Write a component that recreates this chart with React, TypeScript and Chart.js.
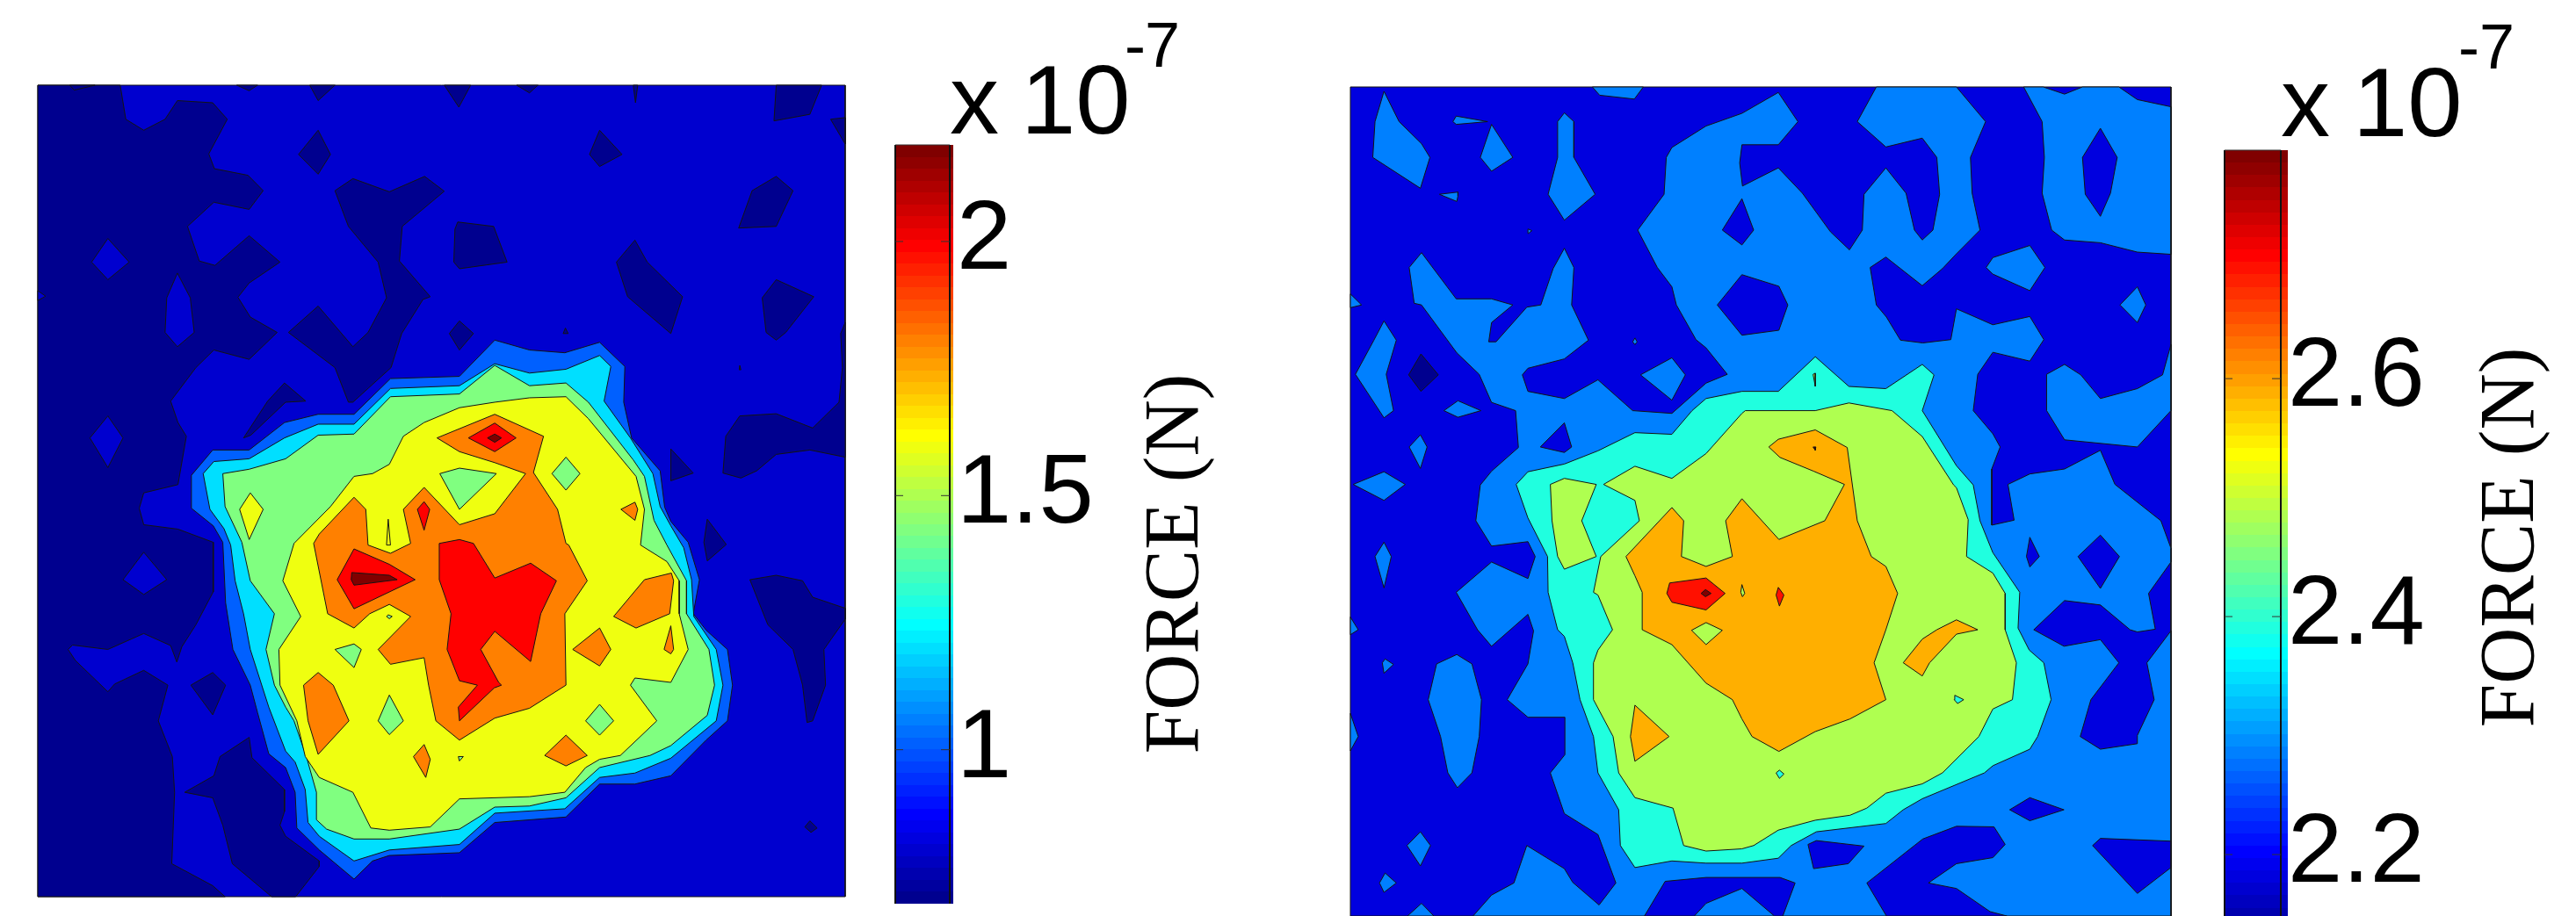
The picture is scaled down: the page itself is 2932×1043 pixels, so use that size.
import { useEffect, useRef } from "react";
import { Chart, registerables } from "chart.js";

Chart.register(...registerables);

type Pt = [number, number];
type Layer = { color: string; polys: Pt[][] };

const JET = ["#00008f","#00009f","#0000af","#0000bf","#0000cf","#0000df","#0000ef","#0000ff","#0010ff","#0020ff","#0030ff","#0040ff","#0050ff","#0060ff","#0070ff","#0080ff","#008fff","#009fff","#00afff","#00bfff","#00cfff","#00dfff","#00efff","#00ffff","#10ffef","#20ffdf","#30ffcf","#40ffbf","#50ffaf","#60ff9f","#70ff8f","#80ff80","#8fff70","#9fff60","#afff50","#bfff40","#cfff30","#dfff20","#efff10","#ffff00","#ffef00","#ffdf00","#ffcf00","#ffbf00","#ffaf00","#ff9f00","#ff8f00","#ff8000","#ff7000","#ff6000","#ff5000","#ff4000","#ff3000","#ff2000","#ff1000","#ff0000","#ef0000","#df0000","#cf0000","#bf0000","#af0000","#9f0000","#8f0000","#800000"];

// ---------- left map: contour bands ----------
const L_X: Pt = [68, 1508];
const L_Y: Pt = [58, 1535];
const L_BASE: Pt[][] = [[[68,58],[1508,58],[1508,1535],[68,1535]]];
const L_NAVY: Pt[][] = [
  [[68,58],[215,58],[225,120],[257,140],[295,120],[317,86],[380,90],[406,120],[373,183],[383,210],[443,222],[470,250],[445,284],[382,271],[335,315],[356,378],[384,386],[445,332],[500,380],[445,418],[425,444],[447,480],[495,508],[445,557],[382,540],[350,572],[305,633],[318,672],[333,697],[318,785],[257,800],[249,828],[257,858],[318,866],[381,890],[381,980],[350,1040],[325,1080],[316,1108],[305,1078],[257,1056],[193,1085],[130,1077],[122,1085],[135,1105],[193,1162],[205,1148],[257,1123],[300,1150],[283,1215],[308,1280],[312,1345],[307,1475],[380,1515],[402,1535],[68,1535]],
  [[125,58],[133,67],[170,58]],[[423,58],[445,68],[460,58]],[[553,58],[568,86],[598,58]],[[793,58],[819,98],[840,58]],[[922,58],[945,72],[960,58]],[[1130,58],[1134,90],[1138,58]],
  [[1385,58],[1381,123],[1445,111],[1466,58]],[[1482,120],[1508,117],[1508,165]],
  [[568,140],[590,184],[568,220],[533,184]],[[1070,140],[1110,184],[1070,206],[1052,184]],
  [[598,250],[630,228],[695,252],[758,224],[793,251],[718,315],[713,378],[768,443],[755,448],[717,510],[698,572],[630,635],[622,635],[598,572],[515,508],[568,460],[630,534],[657,508],[690,445],[675,380],[622,315]],
  [[817,307],[881,315],[905,380],[820,392],[810,380],[812,320]],
  [[1133,340],[1155,380],[1218,443],[1197,510],[1120,443],[1100,380]],
  [[1385,224],[1415,250],[1385,315],[1318,318],[1342,250]],
  [[1385,412],[1452,443],[1402,508],[1385,522],[1367,508],[1360,445]],
  [[820,487],[845,510],[820,540],[802,510]],[[1009,500],[1014,510],[1005,510]],
  [[1508,490],[1500,510],[1503,572],[1497,635],[1450,682],[1385,656],[1320,660],[1295,697],[1290,764],[1322,773],[1350,760],[1385,730],[1445,722],[1508,735]],
  [[1197,720],[1237,764],[1197,778]],[[1262,848],[1296,894],[1262,924],[1256,890]],
  [[1338,958],[1385,950],[1432,960],[1450,990],[1508,1010],[1508,1030],[1470,1085],[1473,1150],[1450,1215],[1440,1218],[1432,1150],[1415,1085],[1370,1040]],
  [[508,600],[546,633],[510,635],[448,695],[435,700],[478,633]],
  [[380,1127],[403,1150],[380,1204],[341,1150]],
  [[445,1245],[450,1282],[508,1340],[508,1380],[500,1405],[510,1425],[570,1470],[570,1480],[528,1535],[485,1535],[415,1475],[398,1405],[380,1355],[330,1345],[382,1315],[393,1280]],
  [[1445,1397],[1458,1410],[1447,1418],[1436,1408]],[[1320,568],[1322,576],[1319,576]],
];
const L_BLUE_ISLANDS: Pt[][] = [
  [[193,337],[231,380],[193,412],[164,380]],[[317,400],[340,445],[347,508],[317,534],[295,508],[298,445]],
  [[193,660],[220,700],[193,754],[161,700]],[[257,908],[298,958],[257,985],[220,958]],[[68,432],[82,442],[68,450]],
];
const L_L3: Pt[][] = [[[883,522],[945,540],[1008,545],[1070,526],[1115,570],[1113,635],[1127,700],[1178,760],[1186,826],[1197,852],[1228,890],[1248,958],[1237,1020],[1260,1050],[1298,1085],[1307,1150],[1298,1215],[1260,1250],[1197,1315],[1133,1330],[1070,1330],[1010,1390],[883,1400],[820,1455],[695,1460],[665,1470],[632,1503],[570,1450],[530,1410],[527,1345],[510,1300],[480,1275],[460,1200],[447,1150],[416,1085],[403,1000],[398,890],[381,860],[342,828],[342,768],[380,722],[445,722],[508,672],[568,657],[632,657],[697,592],[820,588]]];
const L_L4: Pt[][] = [[[883,565],[945,582],[1010,575],[1070,550],[1090,570],[1078,633],[1125,700],[1165,765],[1178,825],[1197,860],[1220,900],[1234,958],[1238,1025],[1278,1085],[1290,1150],[1278,1215],[1197,1283],[1133,1310],[1070,1318],[1008,1375],[883,1383],[820,1440],[695,1450],[632,1470],[570,1425],[550,1400],[545,1340],[527,1290],[510,1270],[480,1190],[447,1085],[435,1020],[420,960],[412,895],[400,865],[375,830],[363,765],[382,743],[445,738],[508,700],[568,675],[632,675],[697,610],[820,605]]];
const L_L5: Pt[][] = [[[883,568],[945,605],[1010,600],[1050,635],[1130,740],[1150,770],[1167,850],[1190,895],[1225,960],[1225,1020],[1265,1085],[1275,1150],[1262,1205],[1197,1260],[1160,1278],[1070,1300],[1010,1355],[945,1370],[883,1372],[820,1412],[695,1430],[632,1430],[583,1412],[565,1395],[565,1345],[547,1280],[525,1215],[510,1190],[490,1150],[475,1085],[490,1020],[447,960],[432,890],[402,825],[398,765],[445,757],[510,738],[568,695],[632,693],[697,625],[820,620]]];
const L_L6: Pt[][] = [
  [[945,627],[1010,625],[1050,665],[1135,770],[1150,830],[1143,895],[1190,925],[1212,960],[1212,1020],[1228,1085],[1197,1145],[1133,1137],[1125,1150],[1172,1215],[1107,1278],[1070,1285],[1045,1300],[1008,1345],[945,1353],[820,1357],[768,1408],[695,1414],[662,1410],[630,1345],[570,1318],[545,1280],[530,1215],[500,1150],[498,1085],[537,1025],[505,960],[525,892],[590,825],[632,770],[665,765],[695,748],[720,697],[757,672],[820,645],[883,635]],
  [[447,800],[470,830],[445,885],[428,830]],
];
const L_L5_HOLES: Pt[][] = [
  [[785,765],[820,755],[886,765],[820,830]],[[1010,735],[1035,765],[1010,795],[985,765]],[[632,1075],[645,1085],[632,1118],[598,1085]],
  [[695,1168],[720,1215],[695,1240],[675,1215]],[[1070,1185],[1095,1215],[1070,1241],[1045,1215]],[[693,1022],[700,1025],[695,1029],[690,1025]],[[818,1280],[827,1280],[820,1288]],
];
const L_L7: Pt[][] = [
  [[780,700],[883,657],[970,697],[952,763],[995,830],[1010,892],[1015,895],[1048,960],[1008,1020],[1010,1150],[945,1192],[883,1210],[820,1250],[778,1215],[765,1150],[757,1100],[697,1112],[675,1085],[733,1025],[695,1003],[660,1020],[632,1046],[585,1020],[560,892],[570,875],[632,808],[653,830],[657,895],[697,910],[733,892],[720,830],[757,790],[820,858],[883,838],[938,765],[883,745],[820,725]],
  [[1150,958],[1198,946],[1202,960],[1195,1020],[1135,1046],[1095,1025]],[[1070,1046],[1090,1085],[1070,1115],[1022,1085]],
  [[568,1127],[595,1150],[623,1215],[568,1276],[550,1215],[542,1150]],[[757,1258],[768,1285],[760,1318],[738,1280]],
  [[1010,1241],[1048,1278],[1010,1297],[972,1278]],[[1133,817],[1138,830],[1133,850],[1108,830]],[[1197,1042],[1202,1085],[1197,1093],[1185,1085]],
];
const L_L6_SLIVER: Pt[][] = [[[693,848],[697,895],[690,895]]];
const L_L8: Pt[][] = [
  [[784,892],[820,885],[845,892],[883,955],[947,928],[993,960],[965,1020],[947,1107],[883,1052],[858,1085],[890,1145],[895,1150],[882,1155],[820,1215],[818,1190],[852,1150],[820,1142],[798,1085],[805,1020],[784,958]],
  [[632,902],[695,930],[741,958],[632,1011],[602,958]],[[757,816],[767,830],[757,868],[745,830]],[[883,673],[921,700],[883,725],[836,700]],
];
const L_L9: Pt[][] = [[[628,945],[695,950],[709,958],[632,968],[627,958]],[[883,693],[895,700],[883,708],[870,700]]];
const LEFT_LAYERS: Layer[] = [
  { color: "#0000cf", polys: L_BASE },
  { color: "#00008f", polys: L_NAVY },
  { color: "#0000cf", polys: L_BLUE_ISLANDS },
  { color: "#0060ff", polys: L_L3 },
  { color: "#00dfff", polys: L_L4 },
  { color: "#80ff80", polys: L_L5 },
  { color: "#efff10", polys: L_L6 },
  { color: "#80ff80", polys: L_L5_HOLES },
  { color: "#ff8000", polys: L_L7 },
  { color: "#efff10", polys: L_L6_SLIVER },
  { color: "#ff0000", polys: L_L8 },
  { color: "#800000", polys: L_L9 },
];

// ---------- right map: contour bands ----------
const R_X: Pt = [58, 1523];
const R_Y: Pt = [62, 1568];
const R_BASE: Pt[][] = [[[58,62],[1523,62],[1523,1568],[58,1568]]];
const R_L3: Pt[][] = [
  [[997,62],[1140,62],[1192,125],[1165,190],[1168,255],[1182,322],[1140,365],[1115,392],[1079,423],[1014,371],[986,390],[997,458],[1015,480],[1040,522],[1080,527],[1130,521],[1140,465],[1205,494],[1271,479],[1296,521],[1271,560],[1205,544],[1178,584],[1170,650],[1205,692],[1218,716],[1203,756],[1203,858],[1243,849],[1232,784],[1271,765],[1333,756],[1397,722],[1423,784],[1505,850],[1523,900],[1523,925],[1483,982],[1495,1047],[1463,1052],[1450,1048],[1397,1003],[1333,995],[1278,1048],[1332,1078],[1397,1066],[1430,1108],[1380,1175],[1361,1242],[1397,1265],[1463,1255],[1463,1240],[1493,1175],[1480,1108],[1523,1050],[1523,1568],[277,1568],[310,1530],[350,1508],[373,1440],[440,1482],[455,1507],[502,1548],[532,1508],[500,1420],[440,1382],[415,1308],[441,1275],[441,1207],[375,1207],[338,1175],[375,1110],[385,1050],[375,1020],[310,1078],[285,1048],[247,980],[310,925],[375,955],[388,915],[375,888],[310,896],[282,850],[290,785],[310,760],[358,717],[353,650],[310,635],[288,584],[248,545],[185,458],[172,455],[163,390],[185,363],[247,447],[310,447],[348,458],[310,490],[305,525],[318,525],[373,462],[398,458],[420,392],[440,355],[457,390],[453,458],[483,522],[440,556],[375,573],[365,585],[375,615],[440,628],[500,594],[562,650],[632,655],[693,600],[731,584],[693,536],[675,521],[640,458],[632,425],[606,390],[571,322],[618,257],[622,190],[632,172],[693,133],[757,110],[822,72],[857,125],[822,167],[757,167],[753,200],[758,242],[822,209],[865,255],[915,325],[949,358],[972,322],[975,257],[1014,209],[1050,255],[1065,322],[1079,340],[1098,322],[1110,257],[1105,190],[1079,155],[1014,171],[963,125]],
  [[1260,62],[1295,62],[1333,75],[1365,62],[1430,62],[1463,85],[1523,98],[1523,366],[1463,362],[1397,345],[1333,340],[1310,322],[1293,255],[1297,190],[1293,125]],
  [[490,62],[581,62],[565,84],[503,77]],
  [[118,70],[145,125],[185,165],[200,190],[183,246],[98,190],[102,125]],
  [[247,115],[303,125],[247,130],[241,125]],[[310,130],[348,190],[310,215],[290,190]],[[217,257],[250,253],[250,260],[248,270]],
  [[440,109],[457,125],[457,190],[495,257],[440,304],[411,257],[428,190],[428,125]],[[375,320],[382,323],[376,328]],
  [[58,438],[78,458],[58,463]],[[118,487],[140,522],[122,584],[135,650],[118,663],[67,584],[100,522]],
  [[250,632],[291,650],[250,662],[225,650]],[[183,694],[195,716],[183,755],[163,716]],[[118,761],[156,784],[118,813],[63,784]],
  [[118,889],[131,915],[118,972],[102,915]],[[58,1025],[72,1048],[58,1057]],[[120,1101],[135,1111],[118,1127],[115,1108]],
  [[248,1093],[275,1110],[292,1175],[288,1242],[275,1308],[249,1335],[232,1308],[219,1242],[197,1175],[212,1110]],
  [[58,1200],[72,1242],[58,1268]],[[183,1415],[201,1440],[183,1477],[159,1440]],[[120,1490],[140,1508],[118,1525],[110,1508]],
  [[566,518],[570,525],[566,530],[562,525]],[[632,554],[656,585],[632,631],[576,585]],
  [[1205,372],[1271,350],[1298,390],[1271,432],[1205,402],[1193,390]],[[1463,425],[1478,458],[1463,490],[1432,458]],
  [[1301,584],[1333,566],[1362,585],[1397,628],[1463,610],[1508,585],[1523,530],[1523,650],[1463,716],[1333,703],[1301,650]],
  [[185,1545],[207,1568],[160,1568]],
];
const R_BLUE_HOLES: Pt[][] = [
  [[1397,137],[1427,190],[1415,255],[1397,297],[1370,257],[1365,190]],
  [[757,265],[778,322],[757,349],[722,322]],[[757,403],[823,424],[839,458],[823,504],[757,513],[713,458]],
  [[1271,880],[1288,915],[1271,934],[1265,915]],[[1397,876],[1431,915],[1397,973],[1357,915]],[[440,672],[453,716],[440,726],[397,716]],
  [[980,1508],[1080,1428],[1140,1405],[1207,1406],[1227,1438],[1205,1462],[1140,1473],[1090,1508],[1140,1518],[1200,1560],[1230,1568],[1015,1568]],
  [[620,1505],[693,1498],[825,1498],[852,1508],[830,1568],[815,1568],[757,1518],[693,1545],[672,1568],[583,1568]],
  [[1383,1440],[1397,1427],[1523,1432],[1523,1480],[1463,1527]],[[875,1438],[890,1431],[975,1441],[947,1473],[885,1482]],[[1235,1375],[1271,1353],[1332,1375],[1271,1395]],
];
const R_NAVY: Pt[][] = [[[184,547],[215,585],[184,615],[162,585]]];
const R_L4: Pt[][] = [[[888,552],[948,606],[1014,610],[1079,566],[1100,585],[1079,650],[1140,750],[1170,785],[1182,850],[1205,908],[1253,980],[1250,1045],[1270,1085],[1296,1108],[1309,1175],[1285,1242],[1271,1265],[1205,1295],[1190,1308],[1079,1355],[1045,1375],[1014,1400],[890,1415],[845,1440],[822,1463],[757,1472],[693,1472],[632,1468],[566,1480],[540,1440],[537,1375],[500,1308],[492,1242],[468,1175],[455,1108],[440,1060],[428,1048],[411,980],[410,915],[375,845],[354,784],[375,761],[440,747],[500,723],[566,690],[632,693],[668,650],[693,628],[757,615],[822,615]]];
const R_L5: Pt[][] = [
  [[763,650],[888,650],[948,636],[1025,650],[1079,697],[1135,785],[1140,790],[1161,848],[1158,915],[1205,945],[1227,982],[1227,1048],[1247,1108],[1240,1175],[1205,1192],[1180,1242],[1115,1308],[1079,1328],[1014,1345],[980,1372],[950,1385],[888,1394],[822,1412],[778,1440],[757,1446],[693,1450],[653,1440],[634,1372],[566,1353],[537,1308],[527,1242],[492,1175],[492,1108],[500,1085],[526,1048],[500,985],[492,980],[505,915],[574,850],[566,813],[510,784],[566,751],[632,773],[693,728],[757,655]],
  [[415,784],[440,773],[497,784],[471,850],[497,915],[440,938],[428,915],[418,850]],
  [[884,584],[888,582],[888,606]],
];
const R_L4_HOLES: Pt[][] = [[[1137,1167],[1153,1175],[1142,1182],[1136,1175]],[[824,1303],[832,1310],[824,1318],[818,1308]]];
const R_L6: Pt[][] = [
  [[632,826],[653,850],[649,915],[693,933],[740,915],[728,850],[757,810],[823,884],[905,850],[940,784],[885,760],[825,735],[805,716],[822,702],[888,685],[945,717],[963,850],[988,915],[1014,933],[1035,982],[1014,1048],[993,1108],[1014,1175],[950,1210],[888,1233],[823,1269],[775,1242],[757,1210],[740,1175],[693,1145],[632,1075],[579,1048],[579,980],[566,950],[550,915]],
  [[1045,1108],[1079,1065],[1105,1048],[1140,1030],[1178,1048],[1140,1056],[1092,1108],[1079,1132]],
  [[566,1185],[627,1242],[566,1287],[558,1242]],
];
const R_L5_HOLES: Pt[][] = [[[693,1035],[722,1049],[693,1075],[667,1049]],[[757,966],[762,982],[758,988],[755,980]]];
const R_L7: Pt[][] = [[[628,963],[693,954],[727,982],[693,1012],[632,998],[623,982]],[[822,971],[832,985],[824,1005],[818,985]]];
const R_L8: Pt[][] = [[[692,975],[702,982],[692,988],[684,982]],[[884,716],[889,716],[888,722]]];
const RIGHT_LAYERS: Layer[] = [
  { color: "#0000df", polys: R_BASE },
  { color: "#0080ff", polys: R_L3 },
  { color: "#0000df", polys: R_BLUE_HOLES },
  { color: "#00008f", polys: R_NAVY },
  { color: "#20ffdf", polys: R_L4 },
  { color: "#afff50", polys: R_L5 },
  { color: "#20ffdf", polys: R_L4_HOLES },
  { color: "#ffaf00", polys: R_L6 },
  { color: "#afff50", polys: R_L5_HOLES },
  { color: "#ff1000", polys: R_L7 },
  { color: "#800000", polys: R_L8 },
];

// ---------- colour bars ----------
const L_BAR_RANGE: Pt = [0.697, 2.19];
const L_BAR_TICKS = [1, 1.5, 2];
const R_BAR_RANGE: Pt = [2.124, 2.792];
const R_BAR_TICKS = [2.2, 2.4, 2.6];

function ContourMap(p: { layers: Layer[]; xr: Pt; yr: Pt; left: number; top: number; width: number; height: number }) {
  const ref = useRef<HTMLCanvasElement>(null);
  useEffect(() => {
    const datasets: any[] = [];
    p.layers.forEach((layer) =>
      layer.polys.forEach((poly) => {
        datasets.push({
          data: [...poly, poly[0]].map(([x, y]) => ({ x, y })),
          showLine: true,
          fill: "shape",
          backgroundColor: layer.color,
          borderColor: "#141414",
          borderWidth: 1,
          pointRadius: 0,
          tension: 0,
          clip: 2,
        });
      })
    );
    datasets.forEach((d, i) => (d.order = -i));
    const chart = new Chart(ref.current!, {
      type: "scatter",
      data: { datasets },
      options: {
        animation: false,
        responsive: false,
        layout: { padding: 2 },
        plugins: { legend: { display: false }, tooltip: { enabled: false } },
        scales: {
          x: { type: "linear", display: false, min: p.xr[0], max: p.xr[1] },
          y: { type: "linear", display: false, reverse: true, min: p.yr[0], max: p.yr[1] },
        },
      },
    });
    return () => chart.destroy();
  }, []);
  return (
    <canvas
      ref={ref}
      width={p.width + 4}
      height={p.height + 4}
      style={{ position: "absolute", left: p.left - 2, top: p.top - 2, width: p.width + 4, height: p.height + 4 }}
    />
  );
}

type BarProps = {
  range: Pt; ticks: number[]; barLeft: number; lineRight: number; barRight: number; barTop: number; barBottom: number;
  labelPad: number; xX: number; xBase: number; tenX: number; minusX: number; minusY: number; sevenX: number; sevenBase: number;
  titleBase: number; titleMid: number;
};

function ColorBar(p: BarProps) {
  const ref = useRef<HTMLCanvasElement>(null);
  const cssLeft = p.barLeft - 4;
  const cssW = 430;
  const cssH = p.barBottom + 4;
  useEffect(() => {
    const overlay = {
      id: "overlay",
      afterDraw(chart: any) {
        const { ctx, chartArea: a, scales } = chart;
        const lineX = p.lineRight - cssLeft;
        ctx.save();
        ctx.strokeStyle = "#111";
        ctx.lineWidth = 2;
        ctx.beginPath();
        ctx.moveTo(a.left, a.top);
        ctx.lineTo(a.left, a.bottom);
        ctx.moveTo(lineX, a.top);
        ctx.lineTo(lineX, a.bottom);
        ctx.stroke();
        ctx.lineWidth = 1;
        ctx.strokeStyle = "#333";
        ctx.beginPath();
        ctx.moveTo(a.left, a.top);
        ctx.lineTo(lineX, a.top);
        p.ticks.forEach((v) => {
          const y = scales.y.getPixelForValue(v);
          ctx.moveTo(a.left, y);
          ctx.lineTo(a.left + 9, y);
          ctx.moveTo(lineX, y);
          ctx.lineTo(lineX - 10, y);
        });
        ctx.stroke();
        ctx.fillStyle = "#000";
        ctx.textBaseline = "alphabetic";
        ctx.textAlign = "left";
        ctx.font = "112px 'Liberation Sans'";
        ctx.fillText("x", p.xX - cssLeft, p.xBase);
        ctx.fillText("10", p.tenX - cssLeft, p.xBase);
        ctx.font = "72px 'Liberation Sans'";
        ctx.fillText("-", p.minusX - cssLeft, p.minusY);
        ctx.fillText("7", p.sevenX - cssLeft, p.sevenBase);
        ctx.translate(p.titleBase - cssLeft, p.titleMid);
        ctx.rotate(-Math.PI / 2);
        ctx.textAlign = "center";
        ctx.font = "89px 'Liberation Serif'";
        ctx.fillText("FORCE (N)", 0, 0);
        ctx.restore();
      },
    };
    const chart = new Chart(ref.current!, {
      type: "bar",
      data: {
        labels: ["jet"],
        datasets: [
          {
            data: [p.range as any],
            barPercentage: 1,
            categoryPercentage: 1,
            borderWidth: 0,
            backgroundColor: (c: any) => {
              const a = c.chart.chartArea;
              if (!a) return JET[0];
              const g = c.chart.ctx.createLinearGradient(0, a.bottom, 0, a.top);
              JET.forEach((col, i) => {
                g.addColorStop(i / JET.length, col);
                g.addColorStop((i + 1) / JET.length, col);
              });
              return g;
            },
          },
        ],
      },
      options: {
        animation: false,
        responsive: false,
        layout: { padding: { left: 4, top: p.barTop, bottom: cssH - p.barBottom, right: 0 } },
        plugins: { legend: { display: false }, tooltip: { enabled: false } },
        scales: {
          x: { type: "category", display: false, offset: true },
          y: {
            type: "linear",
            position: "right",
            min: p.range[0],
            max: p.range[1],
            border: { display: false },
            grid: { display: false, drawTicks: false },
            afterFit: (s: any) => {
              s.width = cssLeft + cssW - p.barRight;
              s.paddingTop = 0;
              s.paddingBottom = 0;
            },
            afterBuildTicks: (s: any) => {
              s.ticks = p.ticks.map((value) => ({ value }));
            },
            ticks: {
              padding: p.labelPad,
              color: "#000",
              autoSkip: false,
              maxRotation: 0,
              font: { family: "'Liberation Sans'", size: 112 },
              callback: (v: any) => String(v),
            },
          },
        },
      },
      plugins: [overlay],
    });
    return () => chart.destroy();
  }, []);
  return (
    <canvas
      ref={ref}
      width={cssW}
      height={cssH}
      style={{ position: "absolute", left: cssLeft, top: 0, width: cssW, height: cssH }}
    />
  );
}

export default function App() {
  return (
    <div style={{ position: "absolute", left: 0, top: 0, width: 2932, height: 1043, overflow: "hidden", background: "#fff" }}>
      <ContourMap layers={LEFT_LAYERS} xr={L_X} yr={L_Y} left={43} top={97} width={919} height={924} />
      <ColorBar range={L_BAR_RANGE} ticks={L_BAR_TICKS} barLeft={1019} lineRight={1081} barRight={1085} barTop={165} barBottom={1029}
        labelPad={4} xX={1081} xBase={152} tenX={1162} minusX={1280} minusY={76} sevenX={1303} sevenBase={76} titleBase={1363} titleMid={642} />
      <ContourMap layers={RIGHT_LAYERS} xr={R_X} yr={R_Y} left={1537} top={99} width={934} height={944} />
      <ColorBar range={R_BAR_RANGE} ticks={R_BAR_TICKS} barLeft={2532} lineRight={2596} barRight={2604} barTop={171} barBottom={1076}
        labelPad={0} xX={2596} xBase={155} tenX={2678} minusX={2798} minusY={78} sevenX={2822} sevenBase={78} titleBase={2883} titleMid={612} />
    </div>
  );
}
